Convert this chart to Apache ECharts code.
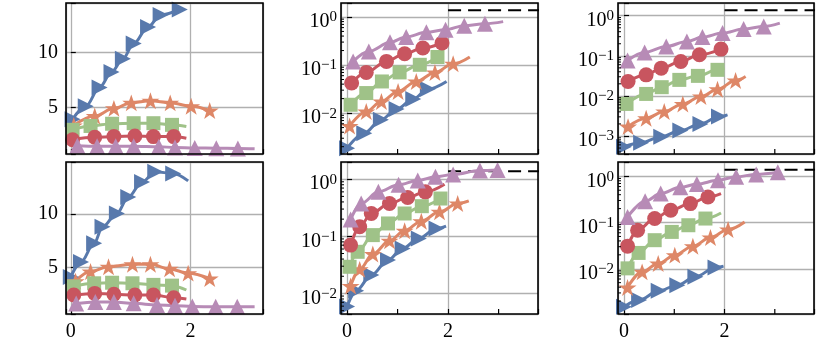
<!DOCTYPE html>
<html>
<head>
<meta charset="utf-8">
<script src="https://cdn.jsdelivr.net/npm/echarts@6/dist/echarts.min.js"></script>
<style>
  html, body { margin: 0; padding: 0; background: #fff; }
  #chart { width: 822px; height: 361px; }
</style>
</head>
<body>
<div id="chart"></div>
<script>
// ---- data: [x, y] pairs, *End = where the line runs on past the last marker
// top-left (linear)
var tlBlue = [[0.03, 3.9], [0.25, 5.1], [0.48, 6.8], [0.68, 8.2], [0.87, 9.4], [1.05, 10.8], [1.29, 12.3], [1.5, 13.4], [1.82, 13.9]];
var tlOrange = [[0.05, 3.35], [0.4, 4.2], [0.72, 4.9], [1.01, 5.4], [1.33, 5.6], [1.66, 5.4], [2.01, 5.1], [2.32, 4.7]];
var tlGreen = [[0.03, 2.95], [0.33, 3.3], [0.69, 3.5], [1.05, 3.55], [1.38, 3.55], [1.69, 3.4]];
var tlGreenEnd = [1.93, 3.25];
var tlRed = [[0.03, 2.05], [0.4, 2.27], [0.72, 2.33], [1.07, 2.39], [1.38, 2.33], [1.72, 2.33]];
var tlRedEnd = [1.93, 2.18];
var tlPurple = [[0.11, 1.5], [0.44, 1.45], [0.75, 1.45], [1.05, 1.45], [1.47, 1.4], [1.74, 1.35], [2.07, 1.3], [2.43, 1.28], [2.79, 1.25]];
var tlPurpleEnd = [3.07, 1.22];

// bottom-left (linear)
var blBlue = [[0.0, 4.1], [0.17, 5.5], [0.39, 7.25], [0.53, 8.8], [0.77, 10.05], [0.96, 11.6], [1.19, 13.0], [1.41, 13.95], [1.71, 13.8]];
var blBlueEnd = [1.96, 13.1];
var blOrange = [[0.08, 3.7], [0.33, 4.6], [0.63, 5.05], [1.03, 5.28], [1.33, 5.28], [1.65, 4.85], [1.96, 4.45], [2.32, 3.95]];
var blGreen = [[0.05, 3.2], [0.39, 3.5], [0.69, 3.55], [1.03, 3.5], [1.38, 3.35], [1.69, 3.28]];
var blGreenEnd = [1.93, 2.87];
var blRed = [[0.05, 2.4], [0.4, 2.55], [0.72, 2.47], [1.07, 2.4], [1.38, 2.4], [1.72, 2.15]];
var blRedEnd = [1.93, 2.03];
var blPurple = [[0.09, 1.6], [0.41, 1.75], [0.72, 1.75], [1.05, 1.62], [1.44, 1.47], [1.74, 1.4], [2.03, 1.32], [2.42, 1.3], [2.78, 1.3]];
var blPurpleEnd = [3.07, 1.3];

// top-middle (log)
var tmBlue = [[0.0, 0.00186], [0.34, 0.00383], [0.67, 0.00725], [0.98, 0.0121], [1.31, 0.0196], [1.6, 0.0316]];
var tmBlueEnd = [1.97, 0.0455];
var tmOrange = [[0.05, 0.0054], [0.38, 0.0108], [0.68, 0.0175], [1.01, 0.0282], [1.37, 0.0455], [1.74, 0.0702], [2.1, 0.106]];
var tmOrangeEnd = [2.43, 0.147];
var tmGreen = [[0.07, 0.0149], [0.38, 0.0261], [0.69, 0.0455], [1.04, 0.0702], [1.44, 0.101], [1.79, 0.147]];
var tmRed = [[0.09, 0.0422], [0.38, 0.0702], [0.78, 0.119], [1.14, 0.172], [1.5, 0.226], [1.88, 0.287]];
var tmPurple = [[0.12, 0.119], [0.43, 0.192], [0.85, 0.296], [1.17, 0.383], [1.57, 0.478], [1.95, 0.543], [2.32, 0.659], [2.73, 0.725]];
var tmPurpleEnd = [3.09, 0.8];

// bottom-middle (log)
var bmBlue = [[0.0, 0.0059], [0.18, 0.0112], [0.48, 0.021], [0.81, 0.0384], [1.1, 0.0614], [1.42, 0.0918], [1.77, 0.137]];
var bmBlueEnd = [1.96, 0.151];
var bmOrange = [[0.07, 0.0135], [0.25, 0.0264], [0.51, 0.0489], [0.84, 0.0835], [1.14, 0.125], [1.47, 0.184], [1.83, 0.268], [2.19, 0.376]];
var bmOrangeEnd = [2.41, 0.418];
var bmGreen = [[0.05, 0.0293], [0.21, 0.0536], [0.51, 0.105], [0.81, 0.168], [1.14, 0.251], [1.48, 0.337], [1.85, 0.459]];
var bmRed = [[0.07, 0.0702], [0.25, 0.147], [0.48, 0.251], [0.84, 0.376], [1.2, 0.479], [1.55, 0.6]];
var bmRedEnd = [1.93, 0.818];
var bmPurple = [[0.07, 0.197], [0.28, 0.376], [0.62, 0.6], [1.02, 0.8], [1.4, 0.95], [1.75, 1.1], [2.1, 1.21], [2.63, 1.42], [2.98, 1.45]];

// top-right (log)
var trBlue = [[0.0, 0.00054], [0.34, 0.00068], [0.74, 0.00096], [1.12, 0.00136], [1.52, 0.002], [1.89, 0.00304]];
var trBlueEnd = [2.06, 0.00335];
var trOrange = [[0.08, 0.00171], [0.44, 0.00277], [0.8, 0.00406], [1.17, 0.0063], [1.53, 0.0096], [1.86, 0.0147], [2.22, 0.0242]];
var trOrangeEnd = [2.42, 0.0304];
var trGreen = [[0.05, 0.0063], [0.44, 0.0112], [0.75, 0.0165], [1.1, 0.0251], [1.47, 0.0316], [1.86, 0.0447]];
var trGreenEnd = [2.0, 0.049];
var trRed = [[0.08, 0.0228], [0.44, 0.0335], [0.74, 0.0492], [1.13, 0.0721], [1.5, 0.106], [1.93, 0.147]];
var trPurple = [[0.07, 0.0763], [0.41, 0.121], [0.84, 0.171], [1.25, 0.228], [1.56, 0.293], [1.96, 0.369], [2.38, 0.464], [2.78, 0.541]];
var trPurpleEnd = [3.1, 0.656];

// bottom-right (log)
var brBlue = [[0.0, 0.0015], [0.3, 0.0021], [0.69, 0.00333], [1.06, 0.00442], [1.42, 0.00668], [1.82, 0.01067]];
var brBlueEnd = [1.98, 0.0114];
var brOrange = [[0.07, 0.00394], [0.36, 0.00857], [0.68, 0.013], [1.01, 0.0197], [1.37, 0.0308], [1.72, 0.0474], [2.07, 0.0706]];
var brOrangeEnd = [2.4, 0.103];
var brGreen = [[0.07, 0.0102], [0.29, 0.022], [0.61, 0.0415], [0.95, 0.0627], [1.28, 0.0874], [1.62, 0.122]];
var brGreenEnd = [1.93, 0.161];
var brRed = [[0.07, 0.0308], [0.27, 0.0682], [0.61, 0.122], [0.93, 0.184], [1.32, 0.257], [1.67, 0.357]];
var brRedEnd = [1.93, 0.423];
var brPurple = [[0.07, 0.132], [0.42, 0.288], [0.73, 0.423], [1.12, 0.578], [1.45, 0.679], [1.87, 0.82], [2.23, 0.975], [2.63, 1.1], [3.06, 1.22]];

// dashed reference line (log panels), from x = 2 onwards
var dashX = [2, 4];
var dashLevel = 1.38;

// axis ranges
var xLin = [-0.08, 3.21];
var xLog = [-0.12, 3.78];
var tlY = [0.75, 14.48];
var blY = [0.62, 14.87];
var tmY = [0.00141, 1.95];
var bmY = [0.00437, 2.0];
var trY = [0.000355, 2.08];
var brY = [0.00105, 2.04];

// ---- look
var keys = ['blue', 'orange', 'green', 'red', 'purple'];
var colors = { blue: '#5879AC', orange: '#DE8767', green: '#9FC288', red: '#C8555F', purple: '#B78BB6' };
var symbols = {
  blue: 'path://M0,0L10,5L0,10Z',
  orange: 'path://M50,0L61.8,35.1L98.9,35.1L68.9,56.9L80.2,92.1L50,70.4L19.8,92.1L31.1,56.9L1.1,35.1L38.2,35.1Z',
  green: 'rect',
  red: 'circle',
  purple: 'triangle'
};
var sizes = { blue: 16, orange: 18, green: 14, red: 15, purple: 16 };
var font = "'Liberation Serif', 'DejaVu Serif', serif";

var gridLeft = [66, 341, 618], gridWidth = [197, 197, 196];
var gridTop = [3, 162], gridHeight = [151, 152];

var panels = [
  { s: [tlBlue, tlOrange, tlGreen, tlRed, tlPurple], e: [null, null, tlGreenEnd, tlRedEnd, tlPurpleEnd], x: xLin, y: tlY, log: false },
  { s: [tmBlue, tmOrange, tmGreen, tmRed, tmPurple], e: [tmBlueEnd, tmOrangeEnd, null, null, tmPurpleEnd], x: xLog, y: tmY, log: true },
  { s: [trBlue, trOrange, trGreen, trRed, trPurple], e: [trBlueEnd, trOrangeEnd, trGreenEnd, null, trPurpleEnd], x: xLog, y: trY, log: true },
  { s: [blBlue, blOrange, blGreen, blRed, blPurple], e: [blBlueEnd, null, blGreenEnd, blRedEnd, blPurpleEnd], x: xLin, y: blY, log: false },
  { s: [bmBlue, bmOrange, bmGreen, bmRed, bmPurple], e: [bmBlueEnd, bmOrangeEnd, null, bmRedEnd, null], x: xLog, y: bmY, log: true },
  { s: [brBlue, brOrange, brGreen, brRed, brPurple], e: [brBlueEnd, brOrangeEnd, brGreenEnd, brRedEnd, null], x: xLog, y: brY, log: true }
];

// minor ticks of the log axes (2..9 x 10^k)
var logMinor = [];
for (var k = -4; k <= 0; k++) {
  for (var m = 2; m <= 9; m++) logMinor.push(+(m * Math.pow(10, k)).toPrecision(3));
}
var xMinor = [1, 3];

function logLabel(v) {
  var e = Math.log10(v), r = Math.round(e);
  if (Math.abs(e - r) > 1e-6) return '';
  return '{b|10}{s|' + (r < 0 ? '\u2212' + (-r) : r) + '}';
}
function linLabel(v) {
  return (Math.abs(v - Math.round(v)) < 1e-9 && Math.round(v) % 5 === 0) ? String(Math.round(v)) : '';
}
function xLabel(v) {
  return (Math.abs(v - Math.round(v)) < 1e-9 && Math.round(v) % 2 === 0) ? String(Math.round(v)) : '';
}

function yMinorTick(params, api) {
  var cs = params.coordSys;
  var y = api.coord([api.value(0), api.value(1)])[1];
  if (y < cs.y + 1 || y > cs.y + cs.height - 1) return null;
  return { type: 'line', shape: { x1: cs.x, y1: y, x2: cs.x + 3, y2: y }, style: { stroke: '#000', lineWidth: 1 } };
}
function xMinorTick(params, api) {
  var cs = params.coordSys;
  var x = api.coord([api.value(0), api.value(1)])[0];
  var yb = cs.y + cs.height;
  return { type: 'line', shape: { x1: x, y1: yb, x2: x, y2: yb - 5 }, style: { stroke: '#000', lineWidth: 1.2 } };
}

var grid = [], xAxis = [], yAxis = [], series = [];
panels.forEach(function (p, i) {
  var col = i % 3, row = Math.floor(i / 3);
  grid.push({
    left: gridLeft[col], top: gridTop[row], width: gridWidth[col], height: gridHeight[row],
    show: true, z: 10, backgroundColor: 'transparent', borderColor: '#000', borderWidth: 1.6
  });
  xAxis.push({
    gridIndex: i, type: 'value', min: p.x[0], max: p.x[1], splitNumber: 2,
    axisLine: { show: false },
    axisTick: { show: true, inside: true, length: 5, lineStyle: { color: '#000', width: 1.2 } },
    axisLabel: { show: row === 1, formatter: xLabel, color: '#000', fontFamily: font, fontSize: 20, margin: 8 },
    splitLine: { show: true, lineStyle: { color: '#b0b0b0', width: 1.3 } }
  });
  var ya = {
    gridIndex: i, min: p.y[0], max: p.y[1],
    axisLine: { show: false },
    axisTick: { show: true, inside: true, length: 5, lineStyle: { color: '#000', width: 1.2 } },
    splitLine: { show: true, lineStyle: { color: '#b0b0b0', width: 1.3 } }
  };
  if (p.log) {
    ya.type = 'log';
    ya.logBase = 10;
    ya.axisLabel = {
      formatter: logLabel, color: '#000', fontFamily: font, margin: 4, padding: [8, 0, 0, 0],
      rich: {
        b: { fontFamily: font, fontSize: 20, color: '#000', lineHeight: 22, verticalAlign: 'bottom' },
        s: { fontFamily: font, fontSize: 15, color: '#000', lineHeight: 15, verticalAlign: 'top' }
      }
    };
  } else {
    ya.type = 'value';
    ya.splitNumber = 3;
    ya.axisLabel = { formatter: linLabel, color: '#000', fontFamily: font, fontSize: 20, margin: 8 };
  }
  yAxis.push(ya);

  if (p.log) {
    series.push({
      type: 'line', xAxisIndex: i, yAxisIndex: i, symbol: 'none', silent: true, z: 1,
      data: [[dashX[0], dashLevel], [dashX[1], dashLevel]],
      lineStyle: { color: '#000', width: 2, type: [13, 7] }
    });
    series.push({
      type: 'custom', xAxisIndex: i, yAxisIndex: i, silent: true, z: 5,
      renderItem: yMinorTick,
      data: logMinor.map(function (v) { return [0, v]; })
    });
    series.push({
      type: 'custom', xAxisIndex: i, yAxisIndex: i, silent: true, z: 5,
      renderItem: xMinorTick,
      data: xMinor.map(function (v) { return [v, 1]; })
    });
  }

  keys.forEach(function (key, j) {
    var data = p.s[j].slice();
    if (p.e[j]) data.push({ value: p.e[j], symbol: 'none' });
    series.push({
      type: 'line', xAxisIndex: i, yAxisIndex: i, data: data,
      symbol: symbols[key], symbolSize: sizes[key], symbolKeepAspect: true,
      showSymbol: true, showAllSymbol: true,
      smooth: 0.35, smoothMonotone: 'x',
      lineStyle: { color: colors[key], width: 3 },
      itemStyle: { color: colors[key], borderWidth: 0 },
      emphasis: { disabled: true }, silent: true, z: 2
    });
  });
});

var chart = echarts.init(document.getElementById('chart'), null, { renderer: 'canvas' });
chart.setOption({
  animation: false,
  backgroundColor: '#fff',
  grid: grid,
  xAxis: xAxis,
  yAxis: yAxis,
  series: series
});
</script>
</body>
</html>
